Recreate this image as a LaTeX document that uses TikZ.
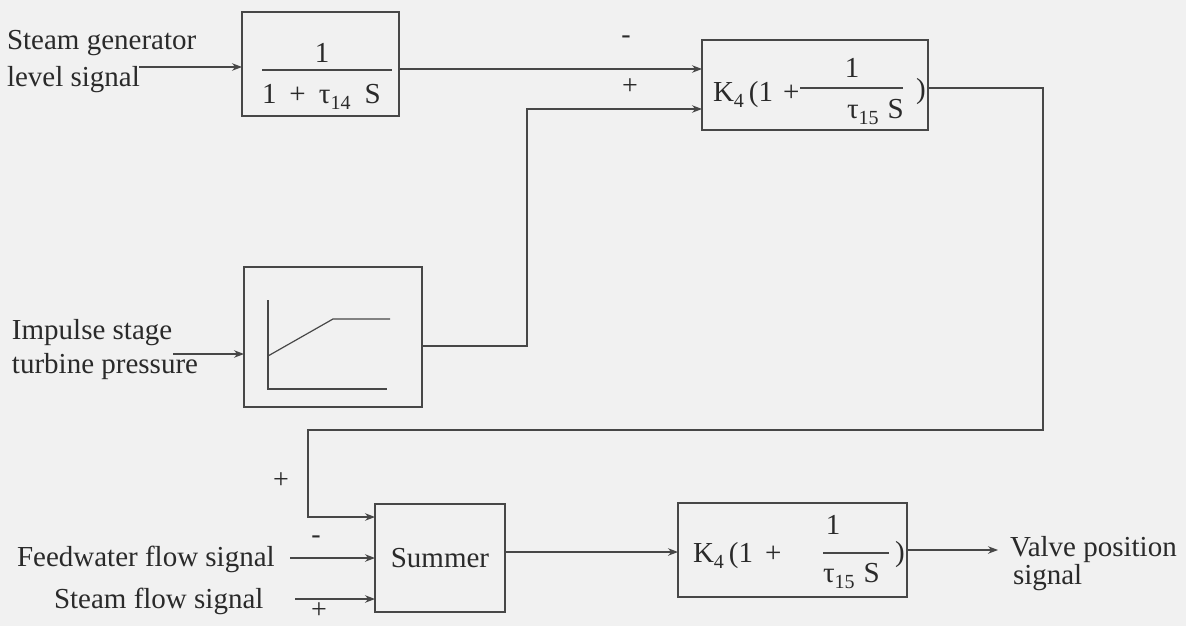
\documentclass[tikz,border=0pt]{standalone}
\usepackage{fontspec}
\setmainfont{Liberation Serif}
\usetikzlibrary{arrows.meta}
\definecolor{ink}{HTML}{474747}
\definecolor{txt}{HTML}{2A2A2A}
\definecolor{paper}{HTML}{F1F1F1}
\newcommand{\lowsub}[1]{\raisebox{-6pt}{\fontsize{20}{20}\selectfont #1}}
\begin{document}
\begin{tikzpicture}[x=1pt,y=-1pt,
  every node/.style={inner sep=0pt, outer sep=0pt, text=txt, font=\fontsize{29}{34}\selectfont},
  block/.style={draw=ink, line width=1.3pt, rectangle},
  wire/.style={draw=ink, line width=1.2pt},
  arr/.style={wire, -{Stealth[length=10pt,width=7.5pt]}},
  sign/.style={font=\fontsize{28}{28}\selectfont},
  lbl/.style={anchor=base west}
]
\fill[paper] (0,0) rectangle (1186,626);
\useasboundingbox (0,0) rectangle (1186,626);

% blocks
\node[block, minimum width=157pt, minimum height=104pt] (b1) at (320.5,64) {};
\node[block, minimum width=226pt, minimum height=90pt] (b2) at (815,85) {};
\node[block, minimum width=178pt, minimum height=140pt] (b3) at (333,337) {};
\node[block, minimum width=130pt, minimum height=108pt] (sum) at (440,558) {Summer};
\node[block, minimum width=229pt, minimum height=94pt] (b4) at (792.5,550) {};

% block 1 content
\node (b1num) at (322,53) {1};
\draw[wire] (262,70) -- (392,70);
\node[lbl] (b1den) at (262,103) {1\hspace{13pt}+\hspace{13pt}τ\lowsub{14}\hspace{14pt}S};

% block 2 content
\node[lbl] (b2k) at (713,101) {K\lowsub{4}\hspace{5pt}(1\hspace{10pt}+};
\node (b2num) at (852,68) {1};
\draw[wire] (800,88) -- (903,88);
\node[lbl] (b2den) at (847,118) {τ\lowsub{15}\hspace{9pt}S};
\node[lbl] (b2par) at (916,99) {)};

% block 3 content: characteristic
\draw[wire] (268,300) -- (268,389) -- (387,389);
\draw[wire] (268,356) -- (333,319) -- (390,319);

% block 4 content
\node[lbl] (b4k) at (693,562) {K\lowsub{4}\hspace{5pt}(1\hspace{12pt}+};
\node (b4num) at (833,525) {1};
\draw[wire] (823,553) -- (889,553);
\node[lbl] (b4den) at (823,582) {τ\lowsub{15}\hspace{9pt}S};
\node[lbl] (b4par) at (895,561) {)};

% input / output labels
\node[lbl] (sg1) at (7,50) {Steam generator};
\node[lbl] (sg2) at (7,87) {level signal};
\node[lbl] (ip1) at (12,339) {Impulse stage};
\node[lbl] (ip2) at (12,373) {turbine pressure};
\node[lbl] (fw) at (17,566) {Feedwater flow signal};
\node[lbl] (sf) at (54,608) {Steam flow signal};
\node[lbl] (vp1) at (1010,556) {Valve position};
\node[lbl] (vp2) at (1013,584) {signal};

% signs
\node[sign] (m1) at (626,40) {-};
\node[sign] (p1) at (630,87) {+};
\node[sign] (p2) at (281,481) {+};
\node[sign] (m2) at (316,540) {-};
\node[sign] (p3) at (319,611) {+};

% free ends
\coordinate (in1) at (139,67);
\coordinate (in3) at (173,354);
\coordinate (infw) at (290,558);
\coordinate (insf) at (295,599);
\coordinate (outv) at (998,550);

% connectors
\draw[arr] (in1) -- (in1 -| b1.west);
\draw[arr] (b1.east |- 0,69) -- (b2.west |- 0,69);
\draw[arr] (in3) -- (in3 -| b3.west);
\draw[arr] (b3.east |- 0,346) -- (527,346) -- (527,109) -- (b2.west |- 0,109);
\draw[arr] (b2.east |- 0,88) -- (1043,88) -- (1043,430) -- (308,430) -- (308,517) -- (sum.west |- 0,517);
\draw[arr] (infw) -- (infw -| sum.west);
\draw[arr] (insf) -- (insf -| sum.west);
\draw[arr] (sum.east |- 0,552) -- (b4.west |- 0,552);
\draw[arr] (b4.east |- 0,550) -- (outv);
\end{tikzpicture}
\end{document}
